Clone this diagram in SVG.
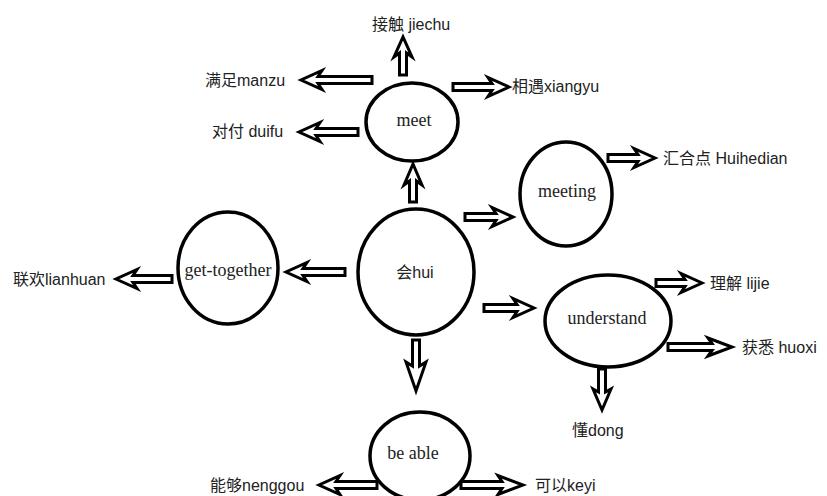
<svg xmlns="http://www.w3.org/2000/svg" width="827" height="496" viewBox="0 0 827 496">
<style>
.node ellipse{fill:#fff;stroke:#000;stroke-width:3.5}
.serif{font-family:"Liberation Serif","Noto Sans CJK SC",serif;font-size:18px;fill:#222;text-anchor:middle}
.lbl{font-family:"Liberation Sans","Noto Sans CJK SC",sans-serif;font-size:16px;fill:#222}
.arr{fill:#fff;stroke:#000;stroke-width:3;stroke-linejoin:miter}
</style>
<rect width="827" height="496" fill="#fff"/>
<g id="connectors">
<path class="arr" d="M399.5 75 L399.5 53 L394 57 L403 37 L412 57 L406.5 53 L406.5 75 Z"/>
<path class="arr" d="M372 76.5 L318 76.5 L322 70.5 L301 80 L322 89.5 L318 83.5 L372 83.5 Z"/>
<path class="arr" d="M453 83.5 L492 83.5 L488 77.5 L509 87 L488 96.5 L492 90.5 L453 90.5 Z"/>
<path class="arr" d="M358 128.5 L316 128.5 L320 122.5 L299 132 L320 141.5 L316 135.5 L358 135.5 Z"/>
<path class="arr" d="M409.5 202 L409.5 181 L404 185 L413 164 L422 185 L416.5 181 L416.5 202 Z"/>
<path class="arr" d="M465 213.5 L496 213.5 L492 207.5 L513 217 L492 226.5 L496 220.5 L465 220.5 Z"/>
<path class="arr" d="M345 268.5 L303 268.5 L307 262.5 L286 272 L307 281.5 L303 275.5 L345 275.5 Z"/>
<path class="arr" d="M172 275.5 L133 275.5 L137 269.5 L116 279 L137 288.5 L133 282.5 L172 282.5 Z"/>
<path class="arr" d="M484 304.5 L517 304.5 L513 298.5 L534 308 L513 317.5 L517 311.5 L484 311.5 Z"/>
<path class="arr" d="M412.5 340 L412.5 366 L406 362 L416 391 L426 362 L419.5 366 L419.5 340 Z"/>
<path class="arr" d="M608 154.5 L638 154.5 L634 148.5 L655 158 L634 167.5 L638 161.5 L608 161.5 Z"/>
<path class="arr" d="M656 279.5 L685 279.5 L681 273.5 L702 283 L681 292.5 L685 286.5 L656 286.5 Z"/>
<path class="arr" d="M668 343.5 L712 343.5 L708 338 L732 347 L708 356 L712 350.5 L668 350.5 Z"/>
<path class="arr" d="M598.5 369 L598.5 392 L593 389 L602 410 L611 389 L605.5 392 L605.5 369 Z"/>
<path class="arr" d="M377 481.5 L336 481.5 L340 475.5 L319 485 L340 494.5 L336 488.5 L377 488.5 Z"/>
<path class="arr" d="M461 481.5 L502 481.5 L498 475.5 L523 485 L498 494.5 L502 488.5 L461 488.5 Z"/>
</g>
<g id="meet" class="node"><ellipse cx="412" cy="122" rx="46" ry="39"/><text class="serif" x="414" y="126">meet</text></g>
<g id="hui" class="node"><ellipse cx="416" cy="272" rx="58" ry="63"/><text class="lbl" x="415" y="278" text-anchor="middle">会hui</text></g>
<g id="get-together" class="node"><ellipse cx="228" cy="268" rx="50" ry="56"/><text class="serif" x="228" y="276">get-together</text></g>
<g id="meeting" class="node"><ellipse cx="566" cy="194" rx="46" ry="52"/><text class="serif" x="567" y="197">meeting</text></g>
<g id="understand" class="node"><ellipse cx="608" cy="321" rx="63" ry="46"/><text class="serif" x="607" y="324">understand</text></g>
<g id="be-able" class="node"><ellipse cx="420" cy="456" rx="50" ry="44"/><text class="serif" x="413" y="459">be able</text></g>
<g id="labels">
<text class="lbl" x="372" y="30">接触 jiechu</text>
<text class="lbl" x="205" y="86">满足manzu</text>
<text class="lbl" x="512" y="92">相遇xiangyu</text>
<text class="lbl" x="212" y="137">对付 duifu</text>
<text class="lbl" x="13" y="285">联欢lianhuan</text>
<text class="lbl" x="663" y="164">汇合点 Huihedian</text>
<text class="lbl" x="710" y="289">理解 lijie</text>
<text class="lbl" x="742" y="353">获悉 huoxi</text>
<text class="lbl" x="572" y="436">懂dong</text>
<text class="lbl" x="210" y="491">能够nenggou</text>
<text class="lbl" x="535" y="491">可以keyi</text>
</g>
</svg>
